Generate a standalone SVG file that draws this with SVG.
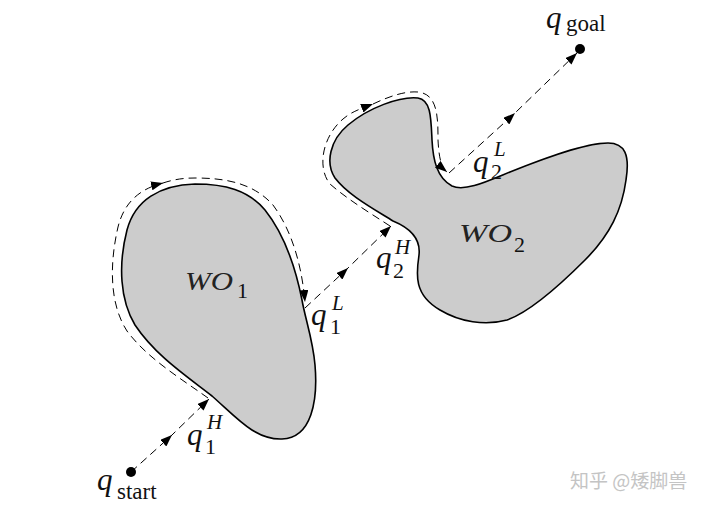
<svg xmlns="http://www.w3.org/2000/svg" width="720" height="509" viewBox="0 0 720 509">
<style>
.obst{fill:#cccccc;stroke:#000;stroke-width:1.6;}
.dash{fill:none;stroke:#000;stroke-width:1;stroke-dasharray:8,5;}
.qv{font-family:"Liberation Serif",serif;font-style:italic;font-size:31px;fill:#111;}
.sc{font-family:"Liberation Serif",serif;font-style:italic;font-size:21px;fill:#111;}
.num{font-family:"Liberation Serif",serif;font-size:22px;fill:#111;}
.rm{font-family:"Liberation Serif",serif;font-size:23px;fill:#111;}
.wo{font-family:"Liberation Serif",serif;font-style:italic;font-size:25px;fill:#222;}
.wm{font-family:"Noto Sans CJK SC",sans-serif;font-size:19px;fill:#c4c4c4;}
</style>
<defs>
<marker id="arr" markerWidth="12" markerHeight="9" refX="12" refY="4.5" orient="auto" markerUnits="userSpaceOnUse">
<path d="M0,0 L12,4.5 L0,9 z" fill="#000"/>
</marker>
</defs>
<rect width="720" height="509" fill="#fff"/>
<g id="WO1">
<path class="obst" d="M212,396 C 237,418 255,440 282,439 C 312,438 318,400 315,365 C 313,340 305,318 302,300 C 296,270 285,235 265,210 C 248,190 225,184 195,184 C 160,185 135,200 127,230 C 118,265 120,300 135,325 C 155,355 185,375 212,396 Z"/>
<text class="wo" x="185" y="290" textLength="48" lengthAdjust="spacingAndGlyphs">WO</text>
<text class="num" x="237" y="298">1</text>
</g>
<g id="WO2">
<path class="obst" d="M393,221 C 410,228 421,238 419,255 C 416,275 414,295 440,310 C 460,322 485,326 507,320 C 530,312 560,285 585,260 C 610,235 622,210 626,180 C 630,155 625,143 608,143 C 585,143 545,158 510,172 C 488,181 465,192 452,186 C 437,178 433,160 432,140 C 431,118 431,100 418,98 C 400,96 368,108 348,125 C 330,140 325,163 335,178 C 348,195 372,208 393,221 Z"/>
<text class="wo" x="459" y="242" textLength="53" lengthAdjust="spacingAndGlyphs">WO</text>
<text class="num" x="514" y="252">2</text>
</g>
<g id="qstart">
<circle cx="131" cy="472" r="5" fill="#000"/>
<text class="qv" x="97" y="490">q</text>
<text class="rm" x="117" y="499">start</text>
</g>
<g id="qgoal">
<circle cx="580" cy="49" r="5" fill="#000"/>
<text class="qv" x="546" y="28">q</text>
<text class="rm" x="566" y="31">goal</text>
</g>
<g id="q1H">
<text class="qv" x="187" y="445">q</text>
<text class="sc" x="207" y="429">H</text>
<text class="num" x="205" y="454">1</text>
</g>
<g id="q1L">
<text class="qv" x="311" y="325">q</text>
<text class="sc" x="332" y="310">L</text>
<text class="num" x="330" y="334">1</text>
</g>
<g id="q2H">
<text class="qv" x="376" y="268">q</text>
<text class="sc" x="395" y="254">H</text>
<text class="num" x="393" y="278">2</text>
</g>
<g id="q2L">
<text class="qv" x="473" y="172">q</text>
<text class="sc" x="494" y="156">L</text>
<text class="num" x="491" y="179">2</text>
</g>
<g id="connectors">
<polyline class="dash" points="131,472 172,435 209,399" marker-mid="url(#arr)" marker-end="url(#arr)"/>
<path class="dash" d="M208,398 C 180,378 147,358 127,331 C 110,305 109,266 118,227 C 124,203 139,189 163,183" marker-end="url(#arr)"/>
<path class="dash" d="M163,183 C 175,179 185,178 195,178 C 228,178 254,184 273,205 C 293,232 302,268 305,302" marker-end="url(#arr)"/>
<polyline class="dash" points="305,308 348,268 391,226" marker-mid="url(#arr)" marker-end="url(#arr)"/>
<path class="dash" d="M390,226 C 370,213 347,199 330,184 C 317,168 322,137 343,119 C 351,112 360,109 373,104" marker-end="url(#arr)"/>
<path class="dash" d="M373,104 C 390,96 405,91 418,92 C 438,94 438,118 438,140 C 439,158 441,167 447,172" marker-end="url(#arr)"/>
<polyline class="dash" points="449,173 515,113 577,53" marker-mid="url(#arr)" marker-end="url(#arr)"/>
</g>
<text class="wm" x="570" y="488">知乎 @矮脚兽</text>
</svg>
